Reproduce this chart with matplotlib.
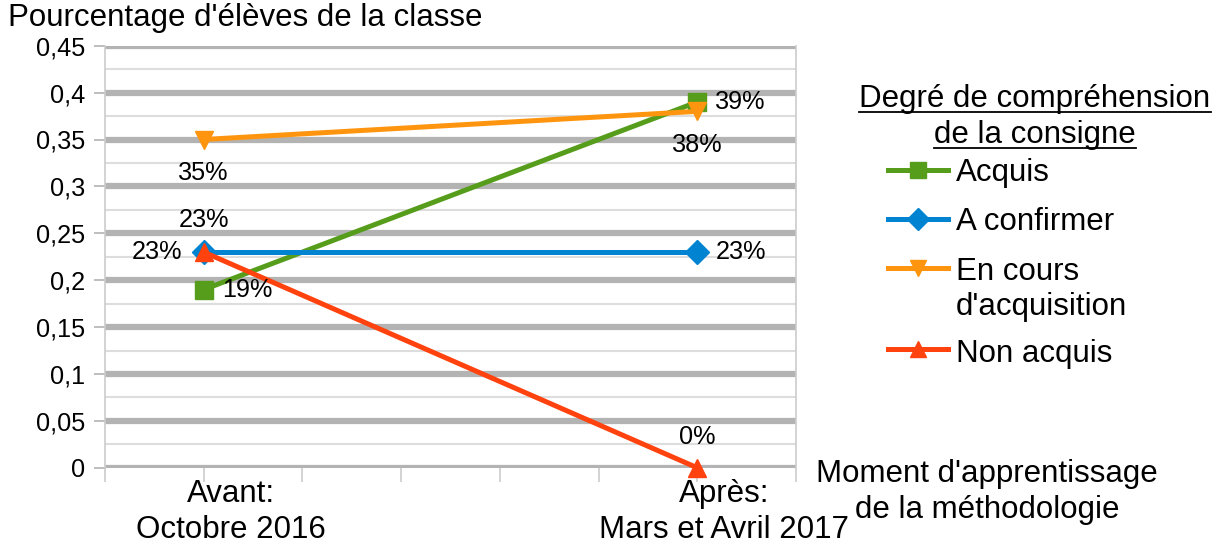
import numpy as np
from matplotlib import pyplot as plt
from matplotlib import transforms
from matplotlib.lines import Line2D

plt.rcParams["font.family"] = ["Liberation Sans", "DejaVu Sans"]
plt.rcParams["font.size"] = 22.5
small = 18.2

categories = ["Avant:\nOctobre 2016", "Après:\nMars et Avril 2017"]
series_names = ["Acquis", "A confirmer", "En cours\nd'acquisition", "Non acquis"]
acquis = [0.19, 0.39]
a_confirmer = [0.23, 0.23]
en_cours = [0.35, 0.38]
non_acquis = [0.23, 0.0]

colors = ["#579d1c", "#0084d1", "#ff950e", "#ff420e"]
markers = ["s", "D", "v", "^"]
msizes = [13, 12, 13, 13]
# label placement per series, per point: (dx px, dy px, ha)
label_pos = [
    [(18, 0, "left"), (18, 0, "left")],
    [(-21, 0, "right"), (18, 0, "left")],
    [(0, -33, "center"), (0, -34, "center")],
    [(0, 32, "center"), (0, 31, "center")],
]

W, H = 1223, 549
fig = plt.figure(figsize=(W / 100, H / 100), dpi=100)
ax = fig.add_axes([105 / W, (H - 467.8) / H, (796 - 105) / W, (467.8 - 45.7) / H])

x = np.arange(len(categories))
ax.set_xlim(-0.2, 1.2)
ax.set_ylim(0, 0.45)

# grid
for v in np.arange(0.025, 0.45, 0.05):
    ax.axhline(v, color="#dddddd", lw=1.5, zorder=1)
for v in np.arange(0, 0.451, 0.05):
    ax.axhline(v, color="#b3b3b3", lw=4.5, zorder=1.5)

for s in ["top", "bottom"]:
    ax.spines[s].set_visible(False)
for s in ["left", "right"]:
    ax.spines[s].set_color("#cccccc")
    ax.spines[s].set_linewidth(1.2)

yt = np.arange(0, 0.451, 0.05)
ax.set_yticks(yt)
ax.set_yticklabels([f"{v:.2f}".rstrip("0").rstrip(",.").replace(".", ",") if v > 0 else "0" for v in yt],
                   fontsize=small)
ax.tick_params(axis="y", color="#b3b3b3", length=8, width=1.2, pad=6.5)

xt = np.arange(-0.2, 1.21, 0.2)
ax.set_xticks(xt)
ax.set_xticklabels([""] * len(xt))
ax.tick_params(axis="x", color="#cccccc", length=10, width=1.2)
for xi, cat in zip(x, categories):
    off = transforms.ScaledTranslation(27 / 100, -11 / 100, fig.dpi_scale_trans)
    ax.text(xi, 0, cat, ha="center", va="top", transform=ax.get_xaxis_transform() + off,
            multialignment="center", linespacing=1.25)

all_vals = [acquis, a_confirmer, en_cours, non_acquis]
for vals, name, c, m, ms, lp in zip(all_vals, series_names, colors, markers, msizes, label_pos):
    ax.plot(x, vals, color=c, lw=3.6, marker=m, markersize=ms, zorder=3, clip_on=False)
    for xi, v, (dx, dy, ha) in zip(x, vals, lp):
        ax.annotate(f"{round(v * 100)}%", (xi, v), xytext=(dx * 0.72, dy * 0.72),
                    textcoords="offset points", ha=ha, va="center", zorder=4, fontsize=small)

fig.text(8 / W, 1 - 18 / H, "Pourcentage d'élèves de la classe", ha="left", va="center")
fig.text(987 / W, 1 - 492 / H, "Moment d'apprentissage\nde la méthodologie",
         ha="center", va="center", multialignment="center", linespacing=1.25)

# legend title with underline
fig.canvas.draw()
renderer = fig.canvas.get_renderer()
for line, ypx in zip(["Degré de compréhension", "de la consigne"], [106.7, 142.7]):
    t = fig.text(1035 / W, 1 - ypx / H, line, ha="center", va="baseline")
    bb = t.get_window_extent(renderer)
    uy = 1 - (ypx + 5) / H
    fig.add_artist(Line2D([bb.x0 / W, bb.x1 / W], [uy, uy], color="black", lw=1.3))

# legend entries
handle_y = [170, 219, 268, 349]
base_y = [181, 230, 280, 362]
for name, c, m, ms, hy, by in zip(series_names, colors, markers, msizes, handle_y, base_y):
    fig.add_artist(Line2D([888 / W, 948 / W], [1 - hy / H] * 2, color=c, lw=3.6))
    fig.add_artist(Line2D([918 / W], [1 - hy / H], color=c, marker=m, markersize=ms - 1))
    lines = name.split("\n")
    for k, ln in enumerate(lines):
        fig.text(956 / W, 1 - (by + 35 * k) / H, ln, ha="left", va="baseline")

fig.savefig("out.png", dpi=100)
